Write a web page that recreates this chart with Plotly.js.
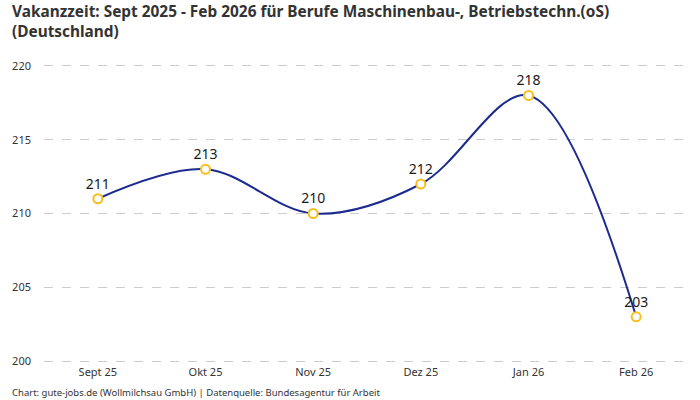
<!DOCTYPE html>
<html>
<head>
<meta charset="utf-8">
<script src="https://cdn.plot.ly/plotly-3.0.1.min.js"></script>
<style>
  body { margin: 0; background: #fff; }
  #chart { width: 700px; height: 400px; }
</style>
</head>
<body>
<div id="chart"></div>
<script>
// Vakanzzeit in Tagen, Sept 2025 - Feb 2026
let months = ['Sept 25', 'Okt 25', 'Nov 25', 'Dez 25', 'Jan 26', 'Feb 26'];
let vakanz = [211, 213, 210, 212, 218, 203];
let yTicks = [200, 205, 210, 215, 220];

let lineBlue = '#1c2b8f';
let markerGold = '#f7bf1d';
let fontName = 'Noto Sans, Open Sans, sans-serif';

let chart_data = [{
  x: months,
  y: vakanz,
  type: 'scatter',
  mode: 'lines+markers+text',
  text: vakanz.map(String),
  textposition: 'top center',
  textfont: {size: 14, color: '#1a1a1a', family: fontName},
  line: {color: lineBlue, width: 2, shape: 'spline', smoothing: 1},
  marker: {size: 9, color: '#ffffff', line: {color: markerGold, width: 2}},
  cliponaxis: false,
  hoverinfo: 'x+y'
}];

let layout = {
  width: 700,
  height: 400,
  margin: {l: 44, r: 10, t: 63, b: 36},
  paper_bgcolor: '#ffffff',
  plot_bgcolor: '#ffffff',
  font: {family: fontName, size: 11, color: '#333333'},
  showlegend: false,
  xaxis: {
    type: 'category',
    range: [-0.5, 5.5],
    showgrid: false,
    zeroline: false,
    showline: false,
    ticks: '',
    tickfont: {size: 11, color: '#333333'}
  },
  yaxis: {
    range: [199.8, 220.2],
    tickvals: yTicks,
    showgrid: true,
    gridcolor: '#cccccc',
    griddash: 'dash',
    gridwidth: 1,
    zeroline: false,
    showline: false,
    ticks: '',
    ticklabelstandoff: 12,
    tickfont: {size: 11, color: '#333333'}
  },
  annotations: [
  {
    xref: 'paper',
    yref: 'paper',
    x: -0.053,
    y: 1.212,
    xanchor: 'left',
    yanchor: 'top',
    align: 'left',
    text: '<b>Vakanzzeit: Sept 2025 - Feb 2026 für Berufe Maschinenbau-, Betriebstechn.(oS)<br>(Deutschland)</b>',
    showarrow: false,
    font: {size: 15.4, color: '#333333', family: fontName}
  },
  {
    xref: 'paper',
    yref: 'paper',
    x: -0.053,
    y: -0.096,
    xanchor: 'left',
    yanchor: 'middle',
    text: 'Chart: gute-jobs.de (Wollmilchsau GmbH) | Datenquelle: Bundesagentur für Arbeit',
    showarrow: false,
    font: {size: 9.5, color: '#333333', family: fontName}
  }]
};

Plotly.newPlot('chart', chart_data, layout, {displayModeBar: false});
</script>
</body>
</html>
